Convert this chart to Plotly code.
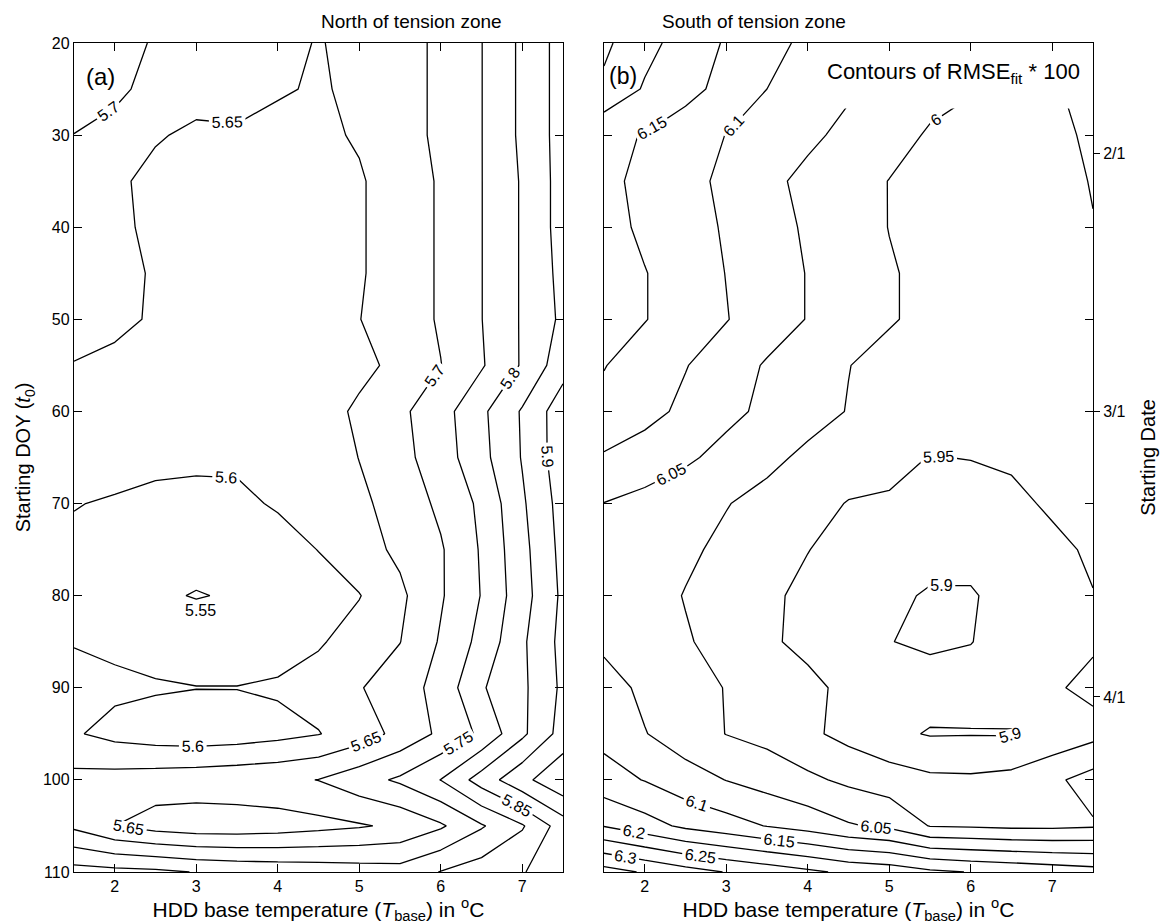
import plotly.graph_objects as go

# Grid of HDD base temperatures (deg C) and starting days of year
t_base = [1.5, 2.0, 2.5, 3.0, 3.5, 4.0, 4.5, 5.0, 5.5, 6.0, 6.5, 7.0, 7.5]
start_doy = [20, 25, 30, 35, 40, 45, 50, 55, 60, 65, 70, 75, 80, 85, 90, 95, 100, 105, 110]

# RMSE_fit * 100, rows follow start_doy, columns follow t_base
rmse_north = [
    [5.740, 5.720, 5.695, 5.680, 5.670, 5.660, 5.648, 5.660, 5.680, 5.710, 5.749, 5.810, 5.870],
    [5.730, 5.710, 5.685, 5.670, 5.665, 5.655, 5.645, 5.660, 5.680, 5.710, 5.749, 5.810, 5.870],
    [5.699, 5.685, 5.655, 5.640, 5.645, 5.635, 5.640, 5.655, 5.680, 5.710, 5.749, 5.810, 5.870],
    [5.690, 5.660, 5.635, 5.625, 5.625, 5.625, 5.630, 5.645, 5.675, 5.705, 5.749, 5.805, 5.870],
    [5.680, 5.665, 5.635, 5.620, 5.615, 5.615, 5.625, 5.645, 5.675, 5.705, 5.749, 5.805, 5.870],
    [5.675, 5.665, 5.645, 5.620, 5.610, 5.610, 5.620, 5.645, 5.675, 5.705, 5.749, 5.805, 5.865],
    [5.670, 5.660, 5.645, 5.620, 5.610, 5.610, 5.620, 5.649, 5.675, 5.705, 5.749, 5.805, 5.860],
    [5.648, 5.640, 5.630, 5.615, 5.605, 5.605, 5.615, 5.635, 5.665, 5.699, 5.745, 5.805, 5.880],
    [5.635, 5.630, 5.620, 5.610, 5.605, 5.610, 5.625, 5.660, 5.690, 5.730, 5.790, 5.855, 5.930],
    [5.625, 5.620, 5.615, 5.610, 5.608, 5.610, 5.620, 5.651, 5.685, 5.725, 5.785, 5.853, 5.930],
    [5.602, 5.595, 5.585, 5.585, 5.590, 5.605, 5.625, 5.640, 5.670, 5.710, 5.760, 5.843, 5.920],
    [5.590, 5.580, 5.570, 5.565, 5.570, 5.580, 5.601, 5.630, 5.660, 5.695, 5.755, 5.835, 5.915],
    [5.585, 5.570, 5.556, 5.548, 5.554, 5.565, 5.580, 5.598, 5.640, 5.695, 5.752, 5.830, 5.910],
    [5.597, 5.590, 5.580, 5.575, 5.575, 5.580, 5.595, 5.620, 5.649, 5.705, 5.765, 5.842, 5.915],
    [5.620, 5.610, 5.605, 5.601, 5.601, 5.606, 5.620, 5.647, 5.675, 5.718, 5.795, 5.840, 5.910],
    [5.605, 5.585, 5.575, 5.570, 5.575, 5.585, 5.598, 5.625, 5.665, 5.710, 5.760, 5.840, 5.920],
    [5.665, 5.670, 5.675, 5.680, 5.685, 5.690, 5.701, 5.730, 5.758, 5.801, 5.872, 5.936, 5.990],
    [5.690, 5.650, 5.630, 5.620, 5.620, 5.625, 5.635, 5.645, 5.660, 5.693, 5.745, 5.795, 5.875],
    [5.820, 5.815, 5.810, 5.798, 5.790, 5.785, 5.780, 5.775, 5.770, 5.802, 5.825, 5.848, 5.870],
]

rmse_south = [
    [6.260, 6.215, 6.180, 6.145, 6.115, 6.090, 6.065, 6.045, 6.030, 6.015, 6.005, 6.005, 6.020],
    [6.240, 6.195, 6.165, 6.135, 6.100, 6.080, 6.055, 6.035, 6.015, 6.003, 5.990, 5.995, 6.015],
    [6.160, 6.148, 6.125, 6.099, 6.080, 6.058, 6.040, 6.018, 5.995, 5.985, 5.980, 5.985, 6.010],
    [6.165, 6.135, 6.115, 6.090, 6.060, 6.040, 6.020, 5.999, 5.985, 5.975, 5.972, 5.980, 6.003],
    [6.170, 6.140, 6.120, 6.095, 6.065, 6.045, 6.022, 5.999, 5.985, 5.975, 5.970, 5.978, 5.998],
    [6.180, 6.152, 6.125, 6.099, 6.075, 6.048, 6.025, 6.004, 5.988, 5.975, 5.970, 5.975, 5.995],
    [6.180, 6.152, 6.125, 6.102, 6.075, 6.048, 6.025, 6.004, 5.988, 5.975, 5.968, 5.970, 5.985],
    [6.152, 6.125, 6.102, 6.075, 6.045, 6.025, 6.001, 5.985, 5.975, 5.965, 5.960, 5.962, 5.975],
    [6.135, 6.115, 6.090, 6.062, 6.040, 6.018, 5.998, 5.980, 5.965, 5.960, 5.958, 5.960, 5.970],
    [6.095, 6.078, 6.058, 6.035, 6.012, 5.990, 5.972, 5.960, 5.949, 5.951, 5.955, 5.960, 5.965],
    [6.049, 6.035, 6.020, 6.002, 5.985, 5.965, 5.948, 5.946, 5.935, 5.935, 5.942, 5.955, 5.965],
    [6.040, 6.025, 6.008, 5.990, 5.970, 5.951, 5.935, 5.925, 5.918, 5.918, 5.925, 5.942, 5.955],
    [6.035, 6.018, 5.998, 5.980, 5.958, 5.940, 5.925, 5.910, 5.895, 5.895, 5.920, 5.938, 5.949],
    [6.040, 6.022, 6.004, 5.985, 5.956, 5.940, 5.925, 5.901, 5.893, 5.899, 5.915, 5.935, 5.945],
    [6.070, 6.040, 6.020, 5.998, 5.980, 5.960, 5.940, 5.925, 5.918, 5.915, 5.925, 5.945, 5.960],
    [6.085, 6.052, 6.025, 5.999, 5.985, 5.960, 5.935, 5.910, 5.897, 5.898, 5.897, 5.915, 5.935],
    [6.120, 6.098, 6.070, 6.049, 6.030, 6.010, 5.990, 5.975, 5.960, 5.958, 5.965, 5.990, 6.020],
    [6.198, 6.170, 6.140, 6.120, 6.098, 6.080, 6.055, 6.040, 5.998, 5.995, 5.990, 5.990, 5.995],
    [6.370, 6.345, 6.320, 6.298, 6.280, 6.260, 6.240, 6.230, 6.210, 6.198, 6.190, 6.180, 6.170],
]

x_ticks = [2, 3, 4, 5, 6, 7]
doy_ticks = [20, 30, 40, 50, 60, 70, 80, 90, 100, 110]
date_ticks = [32, 60, 91]
date_labels = ["2/1", "3/1", "4/1"]

FONT = "Liberation Sans, Arial, sans-serif"


def contour_trace(z, lo, hi, xa, ya):
    return go.Contour(
        x=t_base, y=start_doy, z=z,
        xaxis=xa, yaxis=ya,
        contours=dict(
            coloring="none", start=lo, end=hi, size=0.05,
            showlabels=True, labelformat=".2~f",
            labelfont=dict(family=FONT, size=16, color="black"),
        ),
        line=dict(color="black", width=1.3, smoothing=0),
        showscale=False, hoverinfo="skip",
    )


fig = go.Figure()
fig.add_trace(contour_trace(rmse_north, 5.55, 5.95, "x", "y"))
fig.add_trace(contour_trace(rmse_south, 5.90, 6.35, "x2", "y2"))

# white backing behind the legend text in panel (b)
fig.add_trace(go.Scatter(
    x=[3.98, 7.40, 7.40, 3.98, 3.98], y=[20, 20, 27.1, 27.1, 20],
    xaxis="x2", yaxis="y2", mode="lines", fill="toself",
    fillcolor="white", line=dict(width=0, color="white"),
    hoverinfo="skip", showlegend=False,
))

# invisible carrier so the calendar-date axis on the right is rendered
fig.add_trace(go.Scatter(
    x=[7.5] * len(date_ticks), y=date_ticks, xaxis="x2", yaxis="y3",
    mode="markers", marker=dict(size=1, opacity=0),
    hoverinfo="skip", showlegend=False,
))

xtitle = "HDD base temperature (<i>T</i><sub>base</sub>) in <sup>o</sup>C"
axis_common = dict(
    showline=True, linecolor="black", linewidth=1.4, mirror="ticks",
    ticks="inside", ticklen=8, tickwidth=1.2, tickcolor="black",
    showgrid=False, zeroline=False, automargin=False,
    tickfont=dict(family=FONT, size=16, color="black"),
)

fig.update_layout(
    width=1165, height=924,
    margin=dict(l=74, r=72, t=43, b=52),
    paper_bgcolor="white", plot_bgcolor="white",
    showlegend=False,
    font=dict(family=FONT, color="black"),
    xaxis=dict(domain=[0, 0.4799], range=[1.5, 7.5], tickvals=x_ticks,
               title=dict(text=xtitle, font=dict(size=21), standoff=0),
               anchor="y", **axis_common),
    yaxis=dict(range=[110, 20], tickvals=doy_ticks,
               title=dict(text="Starting DOY (<i>t</i><sub>0</sub>)",
                          font=dict(size=20), standoff=6),
               anchor="x", **axis_common),
    xaxis2=dict(domain=[0.5201, 1], range=[1.5, 7.5], tickvals=x_ticks,
                title=dict(text=xtitle, font=dict(size=21), standoff=0),
                anchor="y2", **axis_common),
    yaxis2=dict(range=[110, 20], tickvals=doy_ticks, showticklabels=False,
                anchor="x2", **axis_common),
    yaxis3=dict(range=[110, 20], overlaying="y2", side="right", anchor="x2",
                tickmode="array", tickvals=date_ticks, ticktext=date_labels,
                ticks="outside", ticklen=6, tickwidth=1.2, tickcolor="black",
                showline=False, showgrid=False, zeroline=False, automargin=False,
                tickfont=dict(family=FONT, size=16, color="black"),
                title=dict(text="Starting Date", font=dict(size=20), standoff=16)),
)

fig.add_annotation(text="North of tension zone", xref="paper", yref="paper",
                   x=0.24, y=1.026, showarrow=False, yanchor="middle",
                   font=dict(family=FONT, size=19))
fig.add_annotation(text="South of tension zone", xref="paper", yref="paper",
                   x=0.76, y=1.026, showarrow=False, yanchor="middle",
                   font=dict(family=FONT, size=19))
fig.add_annotation(text="(a)", xref="x", yref="y", x=1.82, y=23.6,
                   showarrow=False, font=dict(family=FONT, size=24))
fig.add_annotation(text="(b)", xref="x2", yref="y2", x=1.73, y=23.6,
                   showarrow=False, font=dict(family=FONT, size=23))
fig.add_annotation(text="Contours of RMSE<sub>fit</sub> * 100", xref="x2", yref="y2",
                   x=7.36, y=23.3, xanchor="right", showarrow=False,
                   font=dict(family=FONT, size=22))
# the innermost 5.55 loop is too small for an automatic label
fig.add_annotation(text="5.55", xref="x", yref="y", x=3.05, y=81.6,
                   showarrow=False, font=dict(family=FONT, size=16))

fig.write_html("out.html")
